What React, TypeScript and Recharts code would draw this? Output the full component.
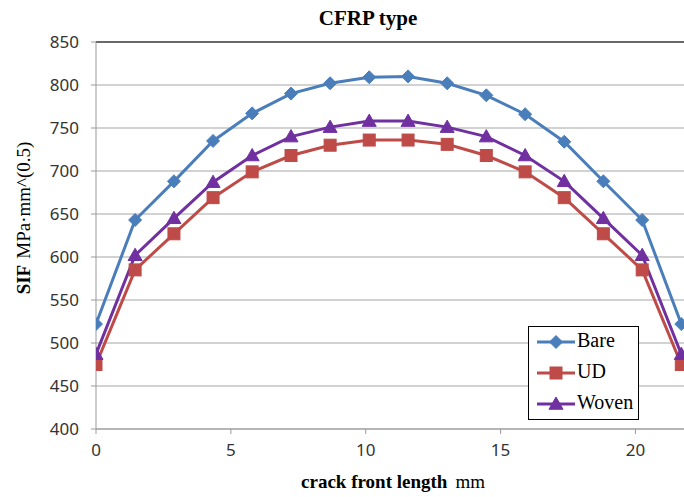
import React from "react";
import {
  LineChart,
  Line,
  XAxis,
  YAxis,
  CartesianGrid,
  ReferenceLine,
  Label,
} from "recharts";

const crackFront = [0, 1.45, 2.89, 4.34, 5.79, 7.23, 8.68, 10.13, 11.57, 13.02, 14.47, 15.91, 17.36, 18.81, 20.25, 21.7];
const bare = [522, 643, 688, 735, 767, 790, 802, 809, 810, 802, 788, 766, 734, 688, 643, 522];
const ud = [475, 585, 627, 669, 699, 718, 730, 736, 736, 731, 718, 699, 669, 627, 585, 475];
const woven = [487, 602, 645, 687, 718, 740, 751, 758, 758, 751, 740, 718, 688, 645, 602, 487];
const xTicks = [0, 5, 10, 15, 20];
const yTicks = [400, 450, 500, 550, 600, 650, 700, 750, 800, 850];

const data = crackFront.map((x, i) => ({ x, bare: bare[i], ud: ud[i], woven: woven[i] }));

const BLUE = "#4a7ebb";
const RED = "#be4b48";
const PURPLE = "#7030a0";

const Diamond = (props: any) => {
  const { cx, cy } = props;
  if (cx == null || cy == null) return null;
  const r = 6.5;
  return <path d={`M${cx},${cy - r}L${cx + r},${cy}L${cx},${cy + r}L${cx - r},${cy}Z`} fill={BLUE} stroke={BLUE} />;
};

const Square = (props: any) => {
  const { cx, cy } = props;
  if (cx == null || cy == null) return null;
  const s = 6;
  return <rect x={cx - s} y={cy - s} width={s * 2} height={s * 2} fill={RED} stroke={RED} />;
};

const Triangle = (props: any) => {
  const { cx, cy } = props;
  if (cx == null || cy == null) return null;
  const r = 7;
  return <path d={`M${cx},${cy - r}L${cx + r},${cy + r * 0.75}L${cx - r},${cy + r * 0.75}Z`} fill={PURPLE} stroke={PURPLE} />;
};

const legendItems = [
  { name: "Bare", color: BLUE, Marker: Diamond },
  { name: "UD", color: RED, Marker: Square },
  { name: "Woven", color: PURPLE, Marker: Triangle },
];

const tickStyle = { fontFamily: "'Noto Sans', sans-serif", fontSize: 17, fill: "#333" };
const serif = "'Liberation Serif', serif";

export default function App() {
  return (
    <div style={{ position: "absolute", left: 0, top: 0, width: 684, height: 497, background: "#fff" }}>
      <LineChart width={684} height={497} data={data} margin={{ top: 42, right: 0, bottom: 0, left: 0 }}>
        <text x={368} y={25} textAnchor="middle" fontFamily={serif} fontWeight="bold" fontSize={21} fill="#000">
          <tspan>CFRP</tspan>
          <tspan dx={4}>type</tspan>
        </text>
        <CartesianGrid vertical={false} stroke="#a6a6a6" strokeWidth={1.2} />
        <XAxis
          dataKey="x"
          type="number"
          domain={[0, 21.8]}
          ticks={xTicks}
          allowDataOverflow
          height={68}
          stroke="#999"
          tickSize={5}
          tickMargin={10}
          tick={tickStyle}
        >
          <Label
            position="bottom"
            content={() => (
              <text x={393} y={488} textAnchor="middle" fontFamily={serif} fontSize={19} fill="#000">
                <tspan fontWeight="bold">crack front length</tspan>
                <tspan dx={8}>mm</tspan>
              </text>
            )}
          />
        </XAxis>
        <YAxis
          type="number"
          domain={[400, 850]}
          ticks={yTicks}
          width={96}
          stroke="#999"
          tickSize={5}
          tickMargin={12}
          tick={tickStyle}
        >
          <Label
            position="left"
            content={() => (
              <text
                x={0}
                y={0}
                transform="translate(30,218) rotate(-90)"
                textAnchor="middle"
                fontFamily={serif}
                fontSize={19}
                fill="#000"
              >
                <tspan fontWeight="bold">SIF</tspan>
                <tspan dx={6}>MPa·mm^(0.5)</tspan>
              </text>
            )}
          />
        </YAxis>
        <ReferenceLine y={850} stroke="#000" strokeWidth={1.2} />
        <Line dataKey="bare" stroke={BLUE} strokeWidth={3} dot={<Diamond />} activeDot={false} isAnimationActive={false} />
        <Line dataKey="ud" stroke={RED} strokeWidth={3} dot={<Square />} activeDot={false} isAnimationActive={false} />
        <Line dataKey="woven" stroke={PURPLE} strokeWidth={3} dot={<Triangle />} activeDot={false} isAnimationActive={false} />
      </LineChart>
      <div
        style={{
          position: "absolute",
          left: 528,
          top: 326,
          width: 109,
          height: 92,
          border: "1px solid #000",
          background: "#fff",
        }}
      >
        {legendItems.map((it, i) => (
          <div key={it.name} style={{ position: "absolute", left: 0, top: 2 + i * 31, height: 26, width: 109 }}>
            <svg width={48} height={26} style={{ position: "absolute", left: 6, top: 0 }}>
              <line x1={2} y1={13} x2={40} y2={13} stroke={it.color} strokeWidth={3} />
              <it.Marker cx={21} cy={13} />
            </svg>
            <span
              style={{
                position: "absolute",
                left: 48,
                top: 0,
                fontFamily: serif,
                fontSize: 20,
                color: "#000",
              }}
            >
              {it.name}
            </span>
          </div>
        ))}
      </div>
    </div>
  );
}
